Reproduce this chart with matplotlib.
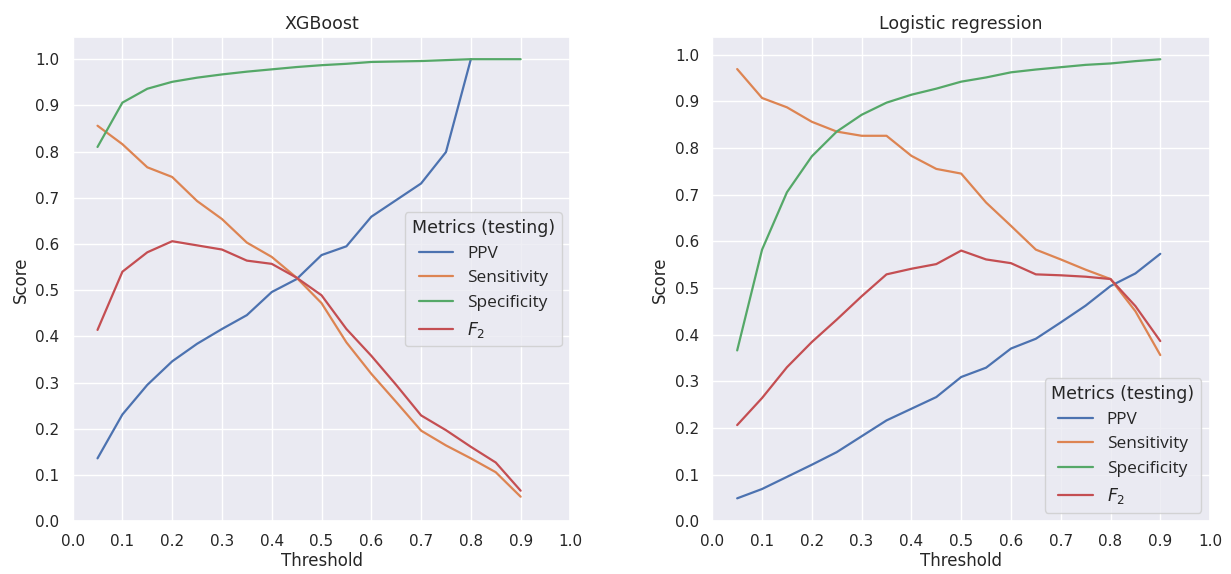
import numpy as np
import matplotlib
matplotlib.use('Agg')
import matplotlib.pyplot as plt
import seaborn as sns

sns.set_theme(style='darkgrid')

thresholds = [0.05, 0.10, 0.15, 0.20, 0.25, 0.30, 0.35, 0.40, 0.45,
              0.50, 0.55, 0.60, 0.65, 0.70, 0.75, 0.80, 0.85, 0.90]

# XGBoost
xgb_ppv = [0.136, 0.231, 0.295, 0.346, 0.384, 0.416, 0.446, 0.496, 0.524,
           0.576, 0.595, 0.659, 0.695, 0.731, 0.799, 1.0]
xgb_sens = [0.856, 0.816, 0.766, 0.745, 0.693, 0.654, 0.603, 0.572, 0.527,
            0.472, 0.387, 0.319, 0.258, 0.196, 0.164, 0.136, 0.106, 0.053]
xgb_spec = [0.81, 0.906, 0.936, 0.951, 0.96, 0.967, 0.973, 0.978, 0.983,
            0.987, 0.99, 0.994, 0.995, 0.996, 0.998, 1.0, 1.0, 1.0]
xgb_f2 = [0.414, 0.54, 0.582, 0.606, 0.597, 0.588, 0.564, 0.557, 0.527,
          0.489, 0.416, 0.358, 0.295, 0.229, 0.197, 0.161, 0.127, 0.066]

# Logistic regression
lr_ppv = [0.049, 0.069, 0.095, 0.121, 0.148, 0.182, 0.216, 0.241, 0.266,
          0.309, 0.329, 0.37, 0.391, 0.426, 0.462, 0.504, 0.531, 0.573]
lr_sens = [0.969, 0.907, 0.887, 0.856, 0.835, 0.826, 0.826, 0.783, 0.755,
           0.745, 0.683, 0.633, 0.582, 0.561, 0.539, 0.519, 0.45, 0.356]
lr_spec = [0.366, 0.582, 0.705, 0.782, 0.835, 0.871, 0.897, 0.914, 0.927,
           0.942, 0.951, 0.962, 0.968, 0.973, 0.978, 0.981, 0.986, 0.99]
lr_f2 = [0.206, 0.264, 0.33, 0.384, 0.432, 0.482, 0.529, 0.541, 0.551,
         0.58, 0.561, 0.553, 0.529, 0.527, 0.524, 0.519, 0.461, 0.386]

labels = ['PPV', 'Sensitivity', 'Specificity', '$F_2$']
ticks = np.arange(0, 1.01, 0.1)

fig, axes = plt.subplots(1, 2, figsize=(12.31, 5.74), dpi=100)
fig.subplots_adjust(left=0.059, right=0.983, bottom=0.092, top=0.935, wspace=0.285)

panels = [
    ('XGBoost', [xgb_ppv, xgb_sens, xgb_spec, xgb_f2], 'center right'),
    ('Logistic regression', [lr_ppv, lr_sens, lr_spec, lr_f2], 'lower right'),
]

for ax, (title, series, loc) in zip(axes, panels):
    for vals, lab in zip(series, labels):
        ax.plot(thresholds[:len(vals)], vals, label=lab, linewidth=1.6)
    ax.set_xlim(0, 1)
    ax.set_ylim(bottom=0)
    ax.set_xticks(ticks)
    ax.set_yticks(ticks)
    ax.tick_params(labelsize=11)
    ax.set_title(title, fontsize=12.5)
    ax.set_xlabel('Threshold', fontsize=12, labelpad=2)
    ax.set_ylabel('Score', fontsize=12)
    leg = ax.legend(title='Metrics (testing)', loc=loc,
                    title_fontsize=12.5, prop={'family': 'Open Sans', 'size': 12.4})

fig.savefig('out.png')
